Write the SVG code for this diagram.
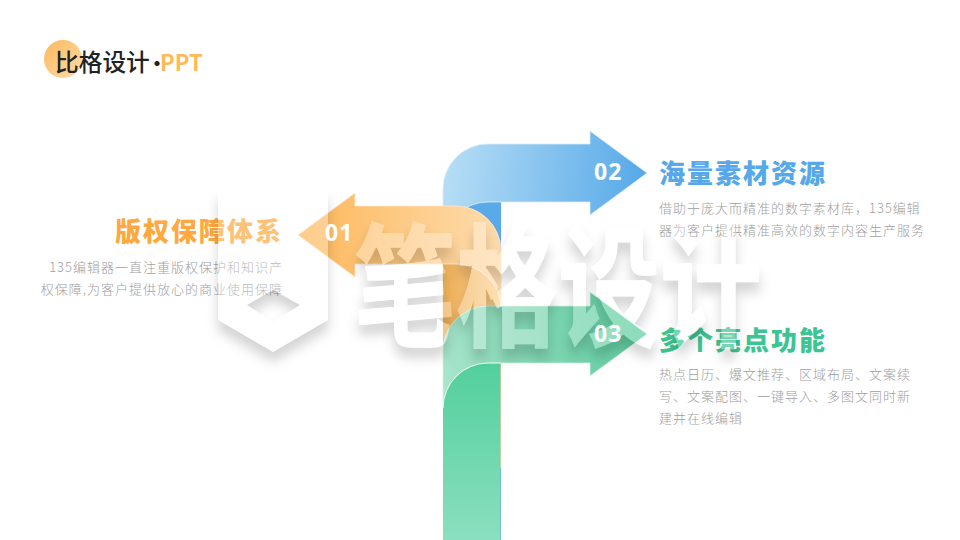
<svg xmlns="http://www.w3.org/2000/svg" width="960" height="540" viewBox="0 0 960 540">
<style>
text{font-family:"Noto Sans CJK SC","Noto Sans",sans-serif}
.ttl{font-size:26px;font-weight:900;letter-spacing:2px}
.body{font-size:13px;font-weight:300;fill:#9e9e9e;letter-spacing:1px}
.num{font-family:"Noto Sans",sans-serif;font-size:23px;font-weight:700;fill:#fff;letter-spacing:1px}
.edge{fill:none;stroke:#fff;stroke-opacity:.6;stroke-width:1}
</style>
<defs>
<linearGradient id="hd" x1="0" y1="0" x2="1" y2="1"><stop offset="0" stop-color="#fdb95c"/><stop offset="1" stop-color="#ffdba8"/></linearGradient>
<linearGradient id="bg" gradientUnits="userSpaceOnUse" x1="450" y1="170" x2="647" y2="190"><stop offset="0" stop-color="#b4dcf5"/><stop offset="1" stop-color="#55a8e8"/></linearGradient>
<linearGradient id="og" gradientUnits="userSpaceOnUse" x1="298" y1="235" x2="501" y2="235"><stop offset="0" stop-color="#fdb75a"/><stop offset="1" stop-color="#fedcae"/></linearGradient>
<linearGradient id="os" x1="0" y1="0" x2="1" y2="0"><stop offset="0" stop-color="#edae58"/><stop offset="1" stop-color="#fdd391"/></linearGradient>
<linearGradient id="gg" gradientUnits="userSpaceOnUse" x1="443" y1="380" x2="647" y2="334"><stop offset="0" stop-color="#a8e5cc"/><stop offset=".4" stop-color="#86d8b6"/><stop offset="1" stop-color="#5ccd9f"/></linearGradient>
<linearGradient id="gs" x1="0" y1="0" x2="0" y2="1"><stop offset="0" stop-color="#53cf9d"/><stop offset="1" stop-color="#8adfbf"/></linearGradient>
<filter id="wm" x="-10%" y="-20%" width="120%" height="160%" color-interpolation-filters="sRGB">
<feGaussianBlur in="SourceAlpha" stdDeviation="6" result="b"/>
<feOffset in="b" dy="10" result="o"/>
<feFlood flood-color="#000" flood-opacity=".17"/>
<feComposite in2="o" operator="in" result="s"/>
<feComposite in="s" in2="SourceAlpha" operator="out" result="c"/>
<feComponentTransfer in="SourceGraphic" result="g"><feFuncA type="linear" slope=".3"/></feComponentTransfer>
<feMerge><feMergeNode in="c"/><feMergeNode in="g"/></feMerge>
</filter>
</defs>
<rect width="960" height="540" fill="#fff"/>

<g id="header">
<circle cx="63" cy="59" r="19" fill="url(#hd)"/>
<text x="55" y="71" font-size="23.7" font-weight="500" fill="#222">比格设计</text>
<text x="147" y="71" font-size="20" font-weight="700" fill="#222" font-family="Noto Sans,sans-serif">·</text>
<text x="160" y="71" font-size="22" font-weight="600" fill="#ffb957" font-family="Noto Sans,sans-serif">PPT</text>
</g>

<g id="connectors">
<path d="M443 300V189a45 45 0 0 1 45-45H590V131L647 173L590 215V202H501V300Z" fill="url(#bg)" stroke="#d8eefb" stroke-width=".8"/>
<path d="M443 540V247a45 45 0 0 1 45-45H501V540Z" fill="#5aa9e8"/>
<path class="edge" d="M443 247a45 45 0 0 1 45-45H501"/>
<path d="M443 320V264H456a45 45 0 0 1 45 44V320Z" fill="#fee4c0"/>
<path d="M443 264H355V277L298 235L355 193V206H456a45 45 0 0 1 45 44V320H443Z" fill="url(#og)" stroke="#ffe7c8" stroke-width=".8"/>
<path d="M443 468V264H456a45 45 0 0 1 45 45V468Z" fill="url(#os)"/>
<path class="edge" d="M443 264H456a45 45 0 0 1 45 45"/>
<path d="M443 540V408a45 45 0 0 1 45-45H500.500V540Z" fill="url(#gs)"/>
<path d="M443 408V351a45 45 0 0 1 45-45H590V292L647 334L590 376V363H488a45 45 0 0 0-45 45Z" fill="url(#gg)" stroke="#d5f3e6" stroke-width=".8"/>
<path class="edge" d="M443 408a45 45 0 0 1 45-45H501"/>
</g>

<g id="node-01">
<text class="ttl" x="115" y="241" fill="#fea83e">版权保障体系</text>
<text class="body" x="283" y="272" text-anchor="end">135编辑器一直注重版权保护和知识产</text>
<text class="body" x="283" y="294" text-anchor="end">权保障,为客户提供放心的商业使用保障</text>
</g>
<g id="node-02">
<text class="ttl" x="659" y="183" fill="#57a8ea">海量素材资源</text>
<text class="body" x="659" y="213">借助于庞大而精准的数字素材库，135编辑</text>
<text class="body" x="659" y="235">器为客户提供精准高效的数字内容生产服务</text>
</g>
<g id="node-03">
<text class="ttl" x="659" y="350" fill="#3cc592">多个亮点功能</text>
<text class="body" x="659" y="379">热点日历、爆文推荐、区域布局、文案续</text>
<text class="body" x="659" y="401">写、文案配图、一键导入、多图文同时新</text>
<text class="body" x="659" y="423">建并在线编辑</text>
</g>

<g id="watermark" filter="url(#wm)" fill="#fff">
<path fill-rule="evenodd" d="M218 190H328V320L273 352L218 320ZM247 305L273 290L300 305L273 322Z"/>
<text transform="translate(354,336) scale(1,1.3)" font-size="102" font-weight="700" stroke="#fff" stroke-width="1" stroke-linejoin="round">笔格设计</text>
</g>

<text class="num" x="325" y="241">01</text>
<text class="num" x="594" y="180">02</text>
<text class="num" x="594" y="342">03</text>
</svg>
